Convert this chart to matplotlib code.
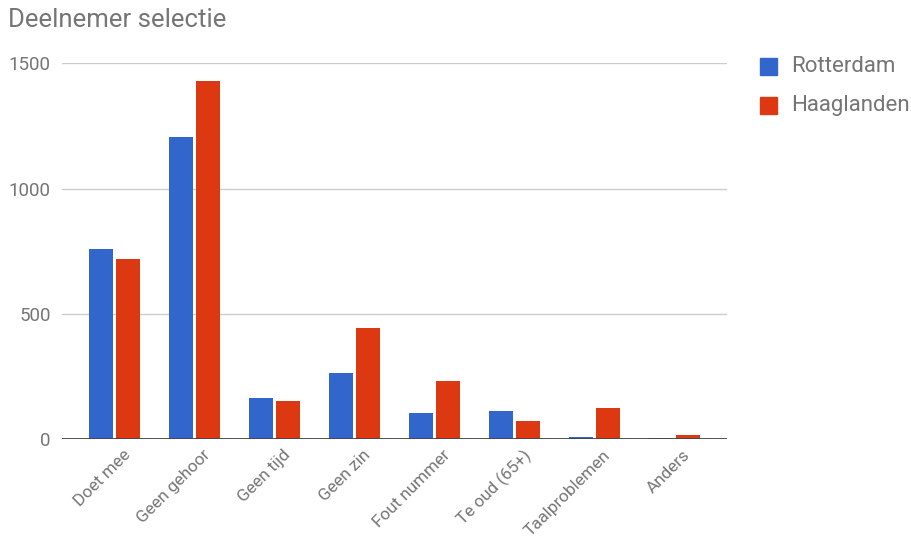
import matplotlib
matplotlib.use("Agg")
import matplotlib.pyplot as plt
import numpy as np
from matplotlib.patches import Rectangle
from matplotlib.transforms import ScaledTranslation

categories = ["Doet mee", "Geen gehoor", "Geen tijd", "Geen zin", "Fout nummer",
              "Te oud (65+)", "Taalproblemen", "Anders"]
rotterdam = [758, 1207, 163, 265, 104, 110, 8, 2]
haaglanden = [719, 1430, 150, 443, 233, 72, 124, 15]
series_names = ["Rotterdam", "Haaglanden"]
yticks = [0, 500, 1000, 1500]

plt.rcParams["font.family"] = ["Roboto", "DejaVu Sans"]

blue = "#3366CC"
red = "#DC3912"
gray_text = "#757575"

fig = plt.figure(figsize=(9.12, 5.47), dpi=100)
W, H = 912, 547
left, right, bottom, top = 62, 727, 439, 63.3
ax = fig.add_axes([left / W, 1 - bottom / H, (right - left) / W, (bottom - top) / H])

x = np.arange(len(categories))
bw = 0.30
gap = 0.015
ax.bar(x - bw / 2 - gap, rotterdam, width=bw, color=blue, zorder=3)
ax.bar(x + bw / 2 + gap, haaglanden, width=bw, color=red, zorder=3)

ax.set_xlim(-0.656, 7.656)
ax.set_ylim(0, 1500)
for s in ax.spines.values():
    s.set_visible(False)
ax.set_yticks(yticks)
ax.set_yticklabels([str(v) for v in yticks], color=gray_text, fontsize=13.5)
ax.tick_params(axis="y", length=0, pad=8)
for v in yticks[1:]:
    ax.axhline(v, color="#cccccc", lw=1, zorder=1)
ax.axhline(0, color="#444444", lw=1.3, zorder=4)

ax.set_xticks(x)
ax.set_xticklabels(categories, rotation=45, ha="right", rotation_mode="anchor",
                   color=gray_text, fontsize=12.3)
ax.tick_params(axis="x", length=0, pad=6)
for lab in ax.get_xticklabels():
    lab.set_transform(lab.get_transform() + ScaledTranslation(0.08, 0, fig.dpi_scale_trans))

fig.text(8 / W, 1 - 20 / H, "Deelnemer selectie", color=gray_text, fontsize=18.5, va="center", ha="left")

# legend
for i, (name, col) in enumerate(zip(series_names, [blue, red])):
    yc = 66.5 + i * 38.5
    fig.patches.append(Rectangle((760 / W, 1 - (yc + 8.5) / H), 17 / W, 17 / H,
                                 transform=fig.transFigure, color=col, figure=fig))
    fig.text(791 / W, 1 - yc / H, name, color=gray_text, fontsize=16, va="center", ha="left")

fig.savefig("out.png", dpi=100)
